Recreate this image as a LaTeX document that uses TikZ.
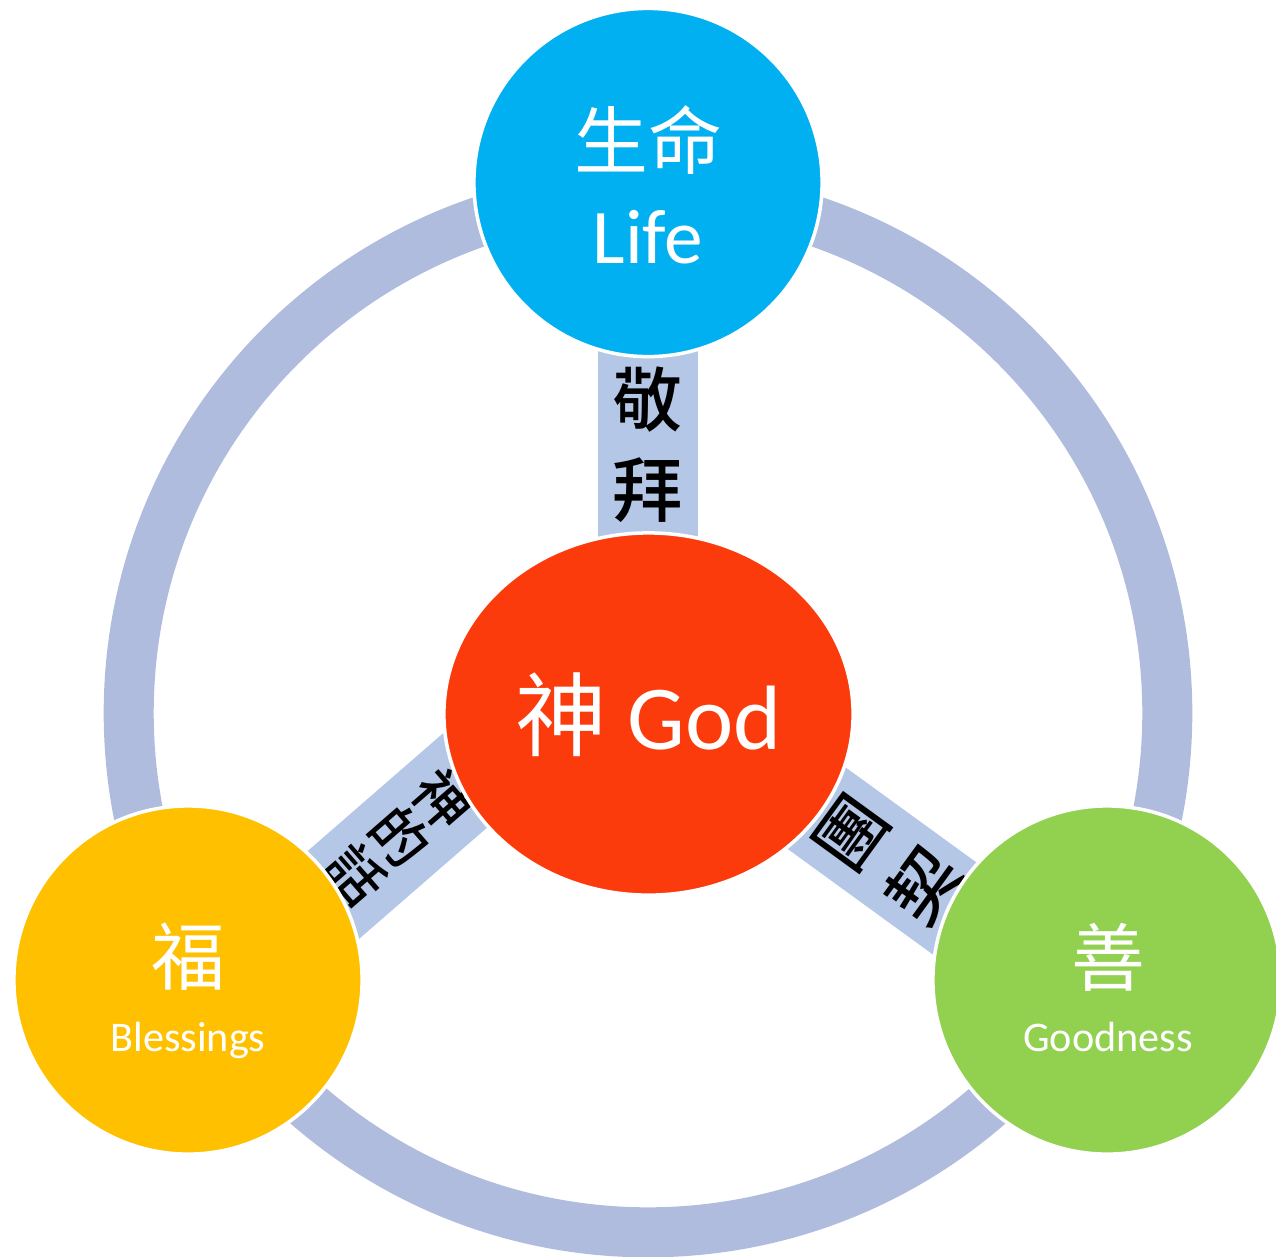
\documentclass[tikz,border=0pt]{standalone}
\usepackage{fontspec}
\setmainfont{Carlito}
\newfontfamily\cjk{Noto Sans CJK TC}
\newfontfamily\cjkmid{Noto Sans CJK TC Medium}
\usetikzlibrary{shapes.geometric}
\definecolor{ringblue}{HTML}{B0BCDE}
\definecolor{spokeblue}{HTML}{B4C7E7}
\definecolor{lifeblue}{HTML}{00B0F0}
\definecolor{godred}{HTML}{FC3B0D}
\definecolor{blessgold}{HTML}{FFC000}
\definecolor{goodgreen}{HTML}{92D050}
\begin{document}
\begin{tikzpicture}[x=0.01cm,y=-0.01cm,
    disc/.style={circle, draw=white, line width=1pt, minimum size=3.48cm, inner sep=0pt},
    spoke/.style={fill=spokeblue, minimum width=1cm, minimum height=3cm, inner sep=0pt, align=center},
    tag/.style={font=\cjkmid\fontsize{20}{25.6}\selectfont},
    zh/.style={anchor=base, text=white, font=\cjk\fontsize{21}{25}\selectfont},
    en/.style={anchor=base, text=white, font=\fontsize{22}{26}\selectfont},
    small/.style={anchor=base, text=white, font=\fontsize{12}{14}\selectfont}]
  \useasboundingbox (0,0) rectangle (1276,1256);
  \draw[ringblue, line width=0.5cm] (648,713) circle (5.19cm);

  \node[spoke, tag] (worship) at (648,445) {敬\\拜};
  \node[spoke, rotate=-49, font=\cjkmid\fontsize{16}{16.4}\selectfont] (word) at (400,837) {神\\的\\話};
  \node[spoke, tag, rotate=54] (fellowship) at (888,860) {團\\契};

  \node[disc, fill=lifeblue] (life) at (648,182.5) {};
  \node[disc, fill=blessgold] (bless) at (188,980) {};
  \node[disc, fill=goodgreen] (good) at (1107,980) {};
  \node[ellipse, draw=white, line width=1pt, fill=godred, minimum width=4.09cm, minimum height=3.62cm, inner sep=0pt] (god) at (648.5,714) {};

  \node[zh] (life-zh) at (648,168) {生命};
  \node[en] (life-en) at (648,263) {Life};
  \node[anchor=base, text=white, font=\fontsize{26}{30}\selectfont] (god-txt) at (648.5,749) {{\cjk 神} God};
  \node[zh] (bless-zh) at (188,984) {福};
  \node[small] (bless-en) at (188,1051) {Blessings};
  \node[zh] (good-zh) at (1108,985) {善};
  \node[small] (good-en) at (1108,1051) {Goodness};
\end{tikzpicture}
\end{document}
